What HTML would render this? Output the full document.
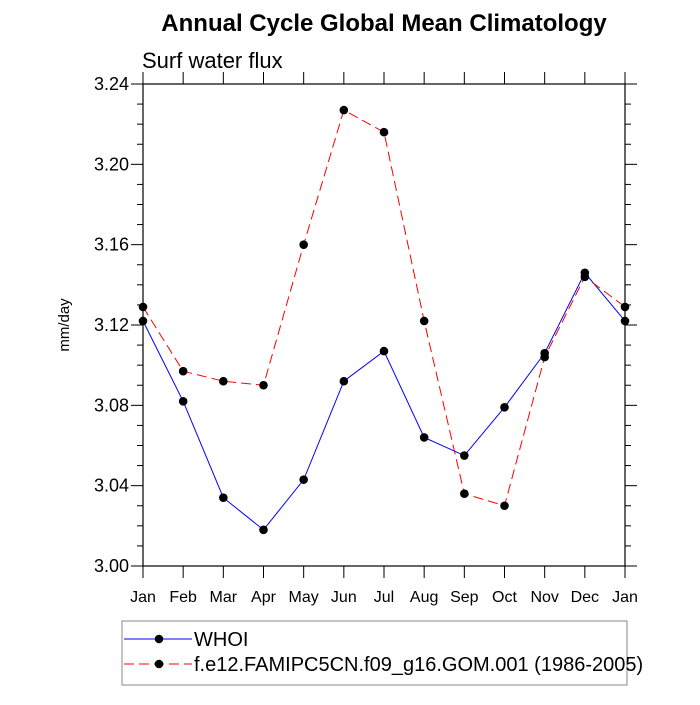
<!DOCTYPE html>
<html><head><meta charset="utf-8"><style>
body{margin:0;background:#fff}
svg text{font-family:"Liberation Sans",Arial,sans-serif}
</style></head><body>
<svg id="chart" width="700" height="700" xmlns="http://www.w3.org/2000/svg">
<rect width="700" height="700" fill="#fff"/>
<text x="384" y="31" font-size="24" font-weight="bold" text-anchor="middle">Annual Cycle Global Mean Climatology</text>
<text x="142" y="68" font-size="22">Surf water flux</text>
<text transform="translate(69,325) rotate(-90)" font-size="15" text-anchor="middle">mm/day</text>
<g id="axes"></g>
<g id="series"></g>
<g id="legend">
<rect x="122" y="621" width="505" height="64" fill="none" stroke="#888" stroke-width="1"/>
</g>
</svg>
<script>
const months=["Jan","Feb","Mar","Apr","May","Jun","Jul","Aug","Sep","Oct","Nov","Dec","Jan"];
const yTicks=[3.00,3.04,3.08,3.12,3.16,3.20,3.24];
const whoi=[3.122,3.082,3.034,3.018,3.043,3.092,3.107,3.064,3.055,3.079,3.106,3.146,3.122];
const model=[3.129,3.097,3.092,3.090,3.160,3.227,3.216,3.122,3.036,3.030,3.104,3.144,3.129];
const seriesNames=["WHOI","f.e12.FAMIPC5CN.f09_g16.GOM.001 (1986-2005)"];
const X0=143,X1=625,Y0=566,Y1=84,YMIN=3.00,YMAX=3.24;
const sx=i=>X0+(X1-X0)*i/(months.length-1);
const sy=v=>Y0-(v-YMIN)/(YMAX-YMIN)*(Y0-Y1);
const NS="http://www.w3.org/2000/svg";
function mk(tag,attrs,parent){const e=document.createElementNS(NS,tag);for(const k in attrs)e.setAttribute(k,attrs[k]);parent.appendChild(e);return e;}
const ax=document.getElementById('axes');
const frame=mk('rect',{x:X0,y:Y1,width:X1-X0,height:Y0-Y1,fill:'none',stroke:'#000','stroke-width':1.2},ax);


months.forEach((m,i)=>{
  const x=sx(i);
  mk('line',{x1:x,y1:Y0,x2:x,y2:Y0+12,stroke:'#000'},ax);
  mk('line',{x1:x,y1:Y1,x2:x,y2:Y1-12,stroke:'#000'},ax);
  const t=mk('text',{x:x,y:Y0+36,'font-size':16,'text-anchor':'middle'},ax);
  t.textContent=m;
  
  
});
for(let v=YMIN;v<=YMAX+1e-9;v+=0.01){
  const y=sy(v);
  const major=Math.abs(Math.round(v*100)%4)===0;
  const L=major?12:6;
  mk('line',{x1:X0-L,y1:y,x2:X0,y2:y,stroke:'#000'},ax);
  mk('line',{x1:X1,y1:y,x2:X1+L,y2:y,stroke:'#000'},ax);
}
yTicks.forEach(v=>{
  const t=mk('text',{x:X0-14,y:sy(v)+6,'font-size':18,'text-anchor':'end'},ax);
  t.textContent=v.toFixed(2);
  
  
});
const sg=document.getElementById('series');
function draw(vals,color,dash,name){
  const g=mk('g',{},sg);
  
  
  const pts=vals.map((v,i)=>sx(i)+','+sy(v)).join(' ');
  const attrs={points:pts,fill:'none',stroke:color,'stroke-width':1};
  if(dash)attrs['stroke-dasharray']=dash;
  mk('polyline',attrs,g);
  vals.forEach((v,i)=>{
    const c=mk('circle',{cx:sx(i),cy:sy(v),r:4.3,fill:'#000'},g);
    
    
  });
}
draw(whoi,'#0000ff',null,'whoi-series');
draw(model,'#ff0000','10,5','model-series');
const lg=document.getElementById('legend');
[[639,'#0000ff',null],[664,'#ff0000','10,5']].forEach((e,i)=>{
  const a={x1:124,y1:e[0],x2:192,y2:e[0],stroke:e[1],'stroke-width':1};
  if(e[2])a['stroke-dasharray']=e[2];
  mk('line',a,lg);
  mk('circle',{cx:159,cy:e[0],r:4.3,fill:'#000'},lg);
  const t=mk('text',{x:194,y:e[0]+7,'font-size':20},lg);
  t.textContent=seriesNames[i];
  
  
});
</script>
</body></html>
